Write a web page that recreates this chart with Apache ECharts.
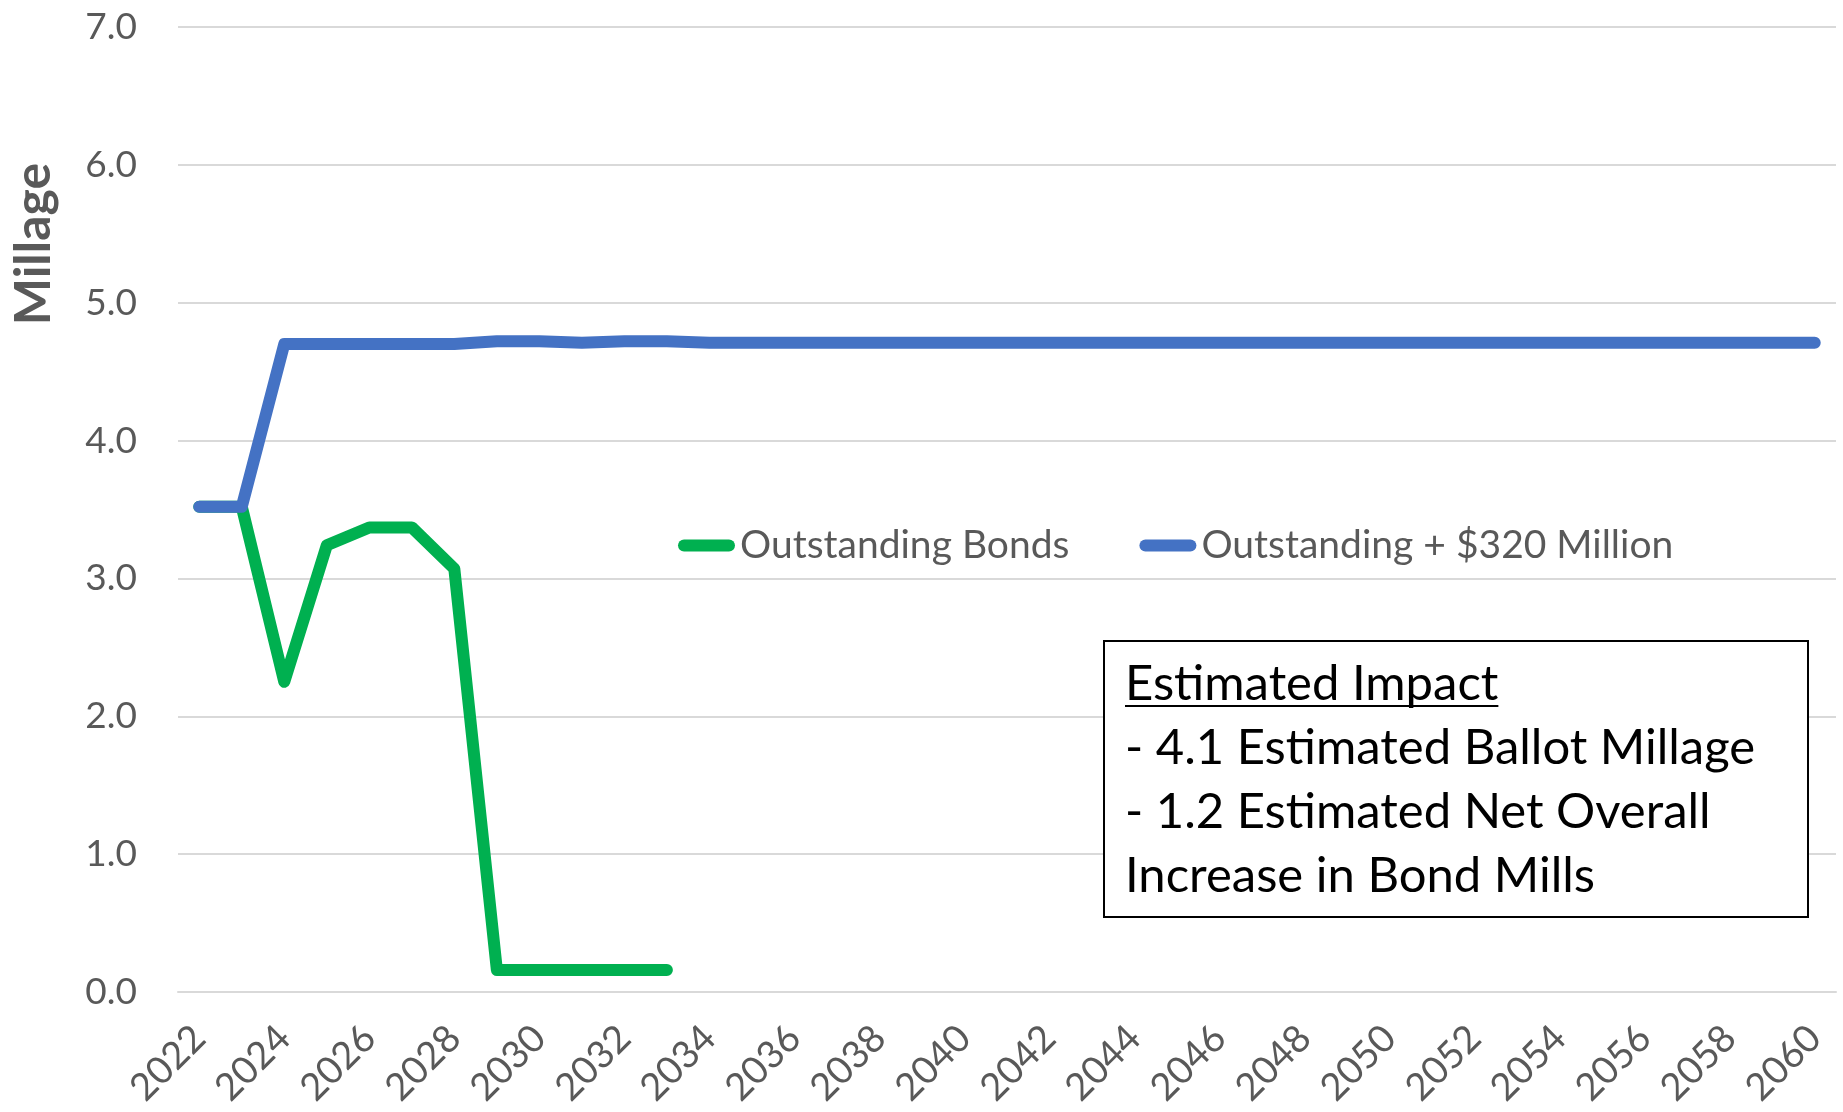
<!DOCTYPE html>
<html>
<head>
<meta charset="utf-8">
<script src="https://cdn.jsdelivr.net/npm/echarts@6/dist/echarts.min.js"></script>
<style>
html,body{margin:0;padding:0;background:#fff;}
#chart{width:1843px;height:1112px;}
</style>
</head>
<body>
<div id="chart"></div>
<script>
const years = ['2022','2023','2024','2025','2026','2027','2028','2029','2030','2031','2032','2033','2034','2035','2036','2037','2038','2039','2040','2041','2042','2043','2044','2045','2046','2047','2048','2049','2050','2051','2052','2053','2054','2055','2056','2057','2058','2059','2060'];
const outstandingBonds = [3.52, 3.52, 2.25, 3.24, 3.37, 3.37, 3.07, 0.16, 0.16, 0.16, 0.16, 0.16];
const outstandingPlus320 = [3.52, 3.52, 4.70, 4.70, 4.70, 4.70, 4.70, 4.72, 4.72, 4.71, 4.72, 4.72, 4.71, 4.71, 4.71, 4.71, 4.71, 4.71, 4.71, 4.71, 4.71, 4.71, 4.71, 4.71, 4.71, 4.71, 4.71, 4.71, 4.71, 4.71, 4.71, 4.71, 4.71, 4.71, 4.71, 4.71, 4.71, 4.71, 4.71];
const seriesNames = ['Outstanding Bonds', 'Outstanding + $320 Million'];
const boxLines = ['Estimated Impact', '- 4.1 Estimated Ballot Millage', '- 1.2 Estimated Net Overall', 'Increase in Bond Mills'];
const yTitle = 'Millage';

const FONT = 'Lato, "Open Sans", sans-serif';
const BOX_FONT_SIZE = 49;
const capsule = 'path://M6 0H51A6 6 0 0 1 51 12H6A6 6 0 0 1 6 0Z';

// measure the heading width so the underline matches the text
const mctx = document.createElement('canvas').getContext('2d');
mctx.font = BOX_FONT_SIZE + 'px Lato, "Open Sans", sans-serif';
const headingWidth = mctx.measureText(boxLines[0]).width;

const chart = echarts.init(document.getElementById('chart'), null, {renderer: 'canvas'});
chart.setOption({
  animation: false,
  backgroundColor: '#ffffff',
  grid: {left: 178, right: 7, top: 27, bottom: 120, containLabel: false, outerBoundsMode: 'none'},
  legend: {
    left: 678, top: 526, padding: 0,
    itemWidth: 57, itemHeight: 12, itemGap: 70,
    textStyle: {fontFamily: FONT, fontSize: 39, color: '#595959'},
    data: [
      {name: seriesNames[0], icon: capsule, itemStyle: {color: '#00B050'}},
      {name: seriesNames[1], icon: capsule, itemStyle: {color: '#4472C4'}}
    ]
  },
  xAxis: {
    type: 'category',
    data: years,
    boundaryGap: true,
    axisLine: {lineStyle: {color: '#D9D9D9', width: 2}},
    axisTick: {show: false},
    axisLabel: {interval: 1, rotate: 45, margin: 40, fontFamily: FONT, fontSize: 38, color: '#595959'},
    splitLine: {show: false}
  },
  yAxis: {
    type: 'value',
    min: 0, max: 7, interval: 1,
    axisLine: {show: false},
    axisTick: {show: false},
    axisLabel: {margin: 41, fontFamily: FONT, fontSize: 37, color: '#595959', formatter: v => v.toFixed(1)},
    splitLine: {lineStyle: {color: '#D9D9D9', width: 2}}
  },
  series: [
    {
      name: seriesNames[0], type: 'line', data: outstandingBonds,
      symbol: 'none', z: 3,
      lineStyle: {color: '#00B050', width: 12, cap: 'round', join: 'round'},
      itemStyle: {color: '#00B050'}
    },
    {
      name: seriesNames[1], type: 'line', data: outstandingPlus320,
      symbol: 'none', z: 4,
      lineStyle: {color: '#4472C4', width: 12, cap: 'round', join: 'round'},
      itemStyle: {color: '#4472C4'}
    }
  ],
  graphic: [
    {
      type: 'text', x: 34, y: 244, rotation: Math.PI / 2,
      style: {text: yTitle, fontFamily: FONT, fontWeight: 'bold', fontSize: 50, fill: '#595959', align: 'center', verticalAlign: 'middle'}
    },
    {
      type: 'rect', z: 10,
      shape: {x: 1104, y: 641, width: 704, height: 276},
      style: {fill: '#ffffff', stroke: '#000000', lineWidth: 2}
    },
    {type: 'text', z: 11, x: 1125, y: 684, style: {text: boxLines[0], fontFamily: FONT, fontSize: BOX_FONT_SIZE, fill: '#000', align: 'left', verticalAlign: 'middle'}},
    {type: 'line', z: 11, shape: {x1: 1125, y1: 706, x2: 1125 + headingWidth, y2: 706}, style: {stroke: '#000', lineWidth: 2}},
    {type: 'text', z: 11, x: 1125, y: 748, style: {text: boxLines[1], fontFamily: FONT, fontSize: BOX_FONT_SIZE, fill: '#000', align: 'left', verticalAlign: 'middle'}},
    {type: 'text', z: 11, x: 1125, y: 812, style: {text: boxLines[2], fontFamily: FONT, fontSize: BOX_FONT_SIZE, fill: '#000', align: 'left', verticalAlign: 'middle'}},
    {type: 'text', z: 11, x: 1125, y: 876, style: {text: boxLines[3], fontFamily: FONT, fontSize: BOX_FONT_SIZE, fill: '#000', align: 'left', verticalAlign: 'middle'}}
  ]
});
</script>
</body>
</html>
